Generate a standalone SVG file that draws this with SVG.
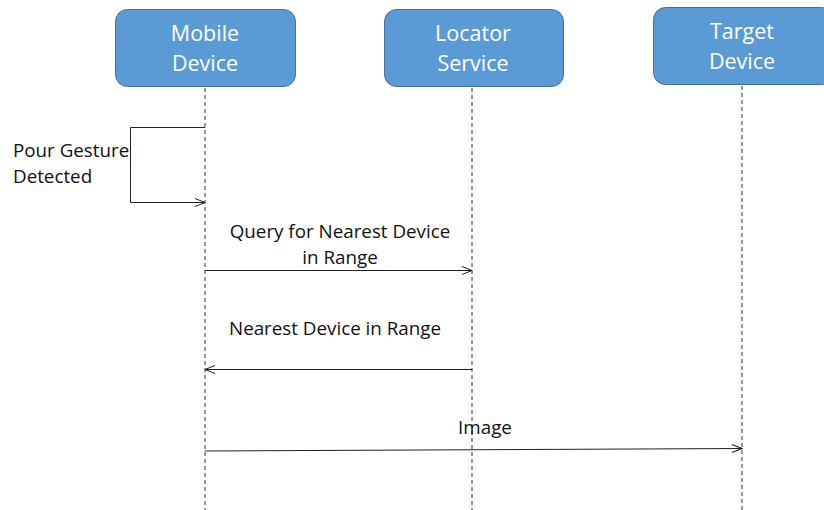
<svg xmlns="http://www.w3.org/2000/svg" width="824" height="510" viewBox="0 0 824 510">
<style>
.box{fill:#5B9BD5;stroke:#41719C;stroke-width:1}
.bt{font-family:"Open Sans","Liberation Sans",sans-serif;font-size:21.5px;fill:#fff;text-anchor:middle}
.life{stroke:#333;stroke-width:1;stroke-dasharray:4,3;fill:none}
.msg{stroke:#222;stroke-width:1;fill:none}
.lt{font-family:"Open Sans","Liberation Sans",sans-serif;font-size:18.8px;fill:#111}
</style>
<defs>
<marker id="ah" markerWidth="12" markerHeight="10" refX="11" refY="5" orient="auto" markerUnits="userSpaceOnUse">
<path d="M1,1 L11,5 L1,9" fill="none" stroke="#222" stroke-width="1"/>
</marker>
</defs>
<rect width="824" height="510" fill="#fff"/>
<g id="lifelines">
<line class="life" x1="205" y1="88" x2="205" y2="510"/>
<line class="life" x1="472" y1="88" x2="472" y2="510"/>
<line class="life" x1="742" y1="86" x2="742" y2="510"/>
</g>
<g id="mobile">
<rect class="box" x="115.5" y="9.5" width="180" height="77" rx="12"/>
<text class="bt" x="205" y="41">Mobile</text>
<text class="bt" x="205" y="71">Device</text>
</g>
<g id="locator">
<rect class="box" x="384.5" y="9.5" width="179" height="77" rx="12"/>
<text class="bt" x="473" y="41">Locator</text>
<text class="bt" x="473" y="71">Service</text>
</g>
<g id="target">
<rect class="box" x="653.5" y="7.5" width="180" height="77" rx="12"/>
<text class="bt" x="742" y="39">Target</text>
<text class="bt" x="742" y="69">Device</text>
</g>
<g id="connectors">
<polyline class="msg" points="205,127.5 130.5,127.5 130.5,202.5 205,202.5" marker-end="url(#ah)"/>
<line class="msg" x1="205" y1="270.5" x2="472" y2="270.5" marker-end="url(#ah)"/>
<line class="msg" x1="472" y1="369.5" x2="205" y2="369.5" marker-end="url(#ah)"/>
<line class="msg" x1="205" y1="451" x2="742" y2="448.5" marker-end="url(#ah)" stroke-width="1.3"/>
</g>
<g id="labels">
<text class="lt" x="13" y="157">Pour Gesture</text>
<text class="lt" x="13" y="183">Detected</text>
<text class="lt" x="340" y="238" text-anchor="middle">Query for Nearest Device</text>
<text class="lt" x="340" y="264" text-anchor="middle">in Range</text>
<text class="lt" x="335" y="335" text-anchor="middle">Nearest Device in Range</text>
<text class="lt" x="485" y="434" text-anchor="middle">Image</text>
</g>
</svg>
